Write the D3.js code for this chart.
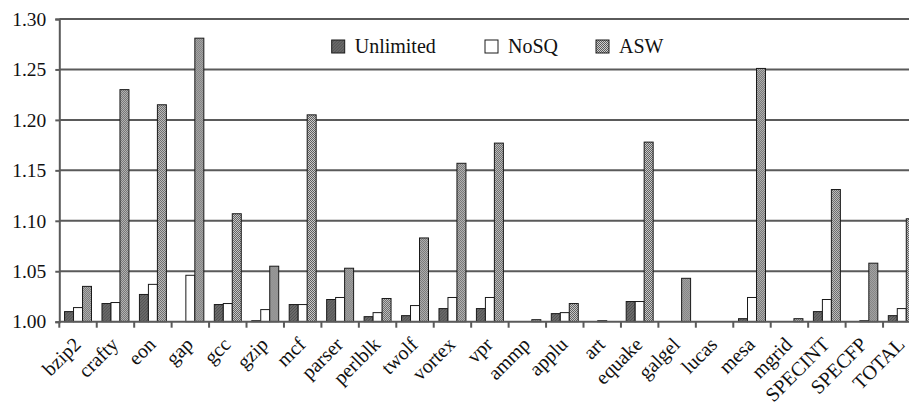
<!DOCTYPE html>
<html>
<head>
<meta charset="utf-8">
<script src="https://cdn.jsdelivr.net/npm/d3@7"></script>
<style>
  body { margin: 0; background: #fff; }
  svg { display: block; font-family: "Liberation Serif", "Times New Roman", serif; }
</style>
</head>
<body>
<svg id="chart" width="909" height="405"></svg>
<script>
// Benchmarks along the x axis
const categories = ["bzip2", "crafty", "eon", "gap", "gcc", "gzip", "mcf", "parser", "perlblk",
  "twolf", "vortex", "vpr", "ammp", "applu", "art", "equake", "galgel", "lucas", "mesa",
  "mgrid", "SPECINT", "SPECFP", "TOTAL"];

// Series values
const unlimited = [1.010, 1.018, 1.027, 1.000, 1.017, 1.001, 1.017, 1.022, 1.005, 1.006, 1.013,
  1.013, 1.000, 1.008, 1.000, 1.020, 1.000, 1.000, 1.003, 1.000, 1.010, 1.000, 1.006];
const noSQ = [1.014, 1.019, 1.037, 1.046, 1.018, 1.012, 1.017, 1.024, 1.009, 1.016, 1.024,
  1.024, 1.000, 1.009, 1.001, 1.020, 1.000, 1.000, 1.024, 1.000, 1.022, 1.001, 1.013];
const asw = [1.035, 1.230, 1.215, 1.281, 1.107, 1.055, 1.205, 1.053, 1.023, 1.083, 1.157,
  1.177, 1.002, 1.018, 1.000, 1.178, 1.043, 1.000, 1.251, 1.003, 1.131, 1.058, 1.102];

const seriesNames = ["Unlimited", "NoSQ", "ASW"];
const seriesValues = [unlimited, noSQ, asw];
const yTicks = [1.00, 1.05, 1.10, 1.15, 1.20, 1.25, 1.30];

const svg = d3.select("#chart");
const plot = { left: 59.3, right: 920.5, top: 19, bottom: 321.7 };

// Fill patterns: hatched dark grey and dotted grey
const defs = svg.append("defs");
const hatch = defs.append("pattern")
  .attr("id", "hatch").attr("patternUnits", "userSpaceOnUse")
  .attr("width", 3).attr("height", 3);
hatch.append("rect").attr("width", 3).attr("height", 3).attr("fill", "#6a6a6a");
hatch.append("path").attr("d", "M0,3 L3,0").attr("stroke", "#505050").attr("stroke-width", 1);

const checker = defs.append("pattern")
  .attr("id", "checker").attr("patternUnits", "userSpaceOnUse")
  .attr("width", 2).attr("height", 2);
checker.append("rect").attr("width", 2).attr("height", 2).attr("fill", "#cfcfcf");
checker.append("rect").attr("width", 1).attr("height", 1).attr("fill", "#5a5a5a");
checker.append("rect").attr("x", 1).attr("y", 1).attr("width", 1).attr("height", 1).attr("fill", "#5a5a5a");

const fills = ["url(#hatch)", "#fff", "url(#checker)"];

const x = d3.scaleBand().domain(categories).range([plot.left, plot.right]).padding(0);
const x1 = d3.scaleBand().domain(seriesNames)
  .range([x.bandwidth() * 0.14, x.bandwidth() * 0.86]);
const y = d3.scaleLinear().domain([1.0, 1.3]).range([plot.bottom, plot.top]);

// Gridlines
svg.append("g")
  .selectAll("line")
  .data(yTicks.slice(1))
  .join("line")
  .attr("x1", plot.left).attr("x2", plot.right)
  .attr("y1", (d) => y(d)).attr("y2", (d) => y(d))
  .attr("stroke", "#5a5a5a").attr("stroke-width", 2);

// Bars
const groups = svg.append("g")
  .selectAll("g")
  .data(categories)
  .join("g")
  .attr("transform", (d) => `translate(${x(d)},0)`);

groups.selectAll("rect")
  .data((d, i) => seriesNames.map((s, k) => ({ s, k, v: seriesValues[k][i] })))
  .join("rect")
  .attr("x", (d) => x1(d.s))
  .attr("width", x1.bandwidth())
  .attr("y", (d) => y(d.v))
  .attr("height", (d) => plot.bottom - y(d.v))
  .attr("fill", (d) => fills[d.k])
  .attr("stroke", "#1a1a1a")
  .attr("stroke-width", 1)
  .attr("display", (d) => (d.v <= 1.0 ? "none" : null));

// Y axis
const yAxis = svg.append("g")
  .attr("transform", `translate(${plot.left},0)`)
  .call(d3.axisLeft(y).tickValues(yTicks).tickFormat(d3.format(".2f")).tickSize(4).tickPadding(9));
yAxis.select(".domain").attr("stroke", "#5a5a5a").attr("stroke-width", 2);
yAxis.selectAll(".tick line").attr("stroke", "#5a5a5a").attr("stroke-width", 2);
yAxis.selectAll("text").attr("font-size", 19.5).attr("fill", "#111")
  .attr("font-family", "Liberation Serif");

// X axis line and boundary ticks
svg.append("line")
  .attr("x1", plot.left).attr("x2", plot.right)
  .attr("y1", plot.bottom).attr("y2", plot.bottom)
  .attr("stroke", "#5a5a5a").attr("stroke-width", 2);
svg.append("g")
  .selectAll("line")
  .data(categories)
  .join("line")
  .attr("x1", (d) => x(d)).attr("x2", (d) => x(d))
  .attr("y1", plot.bottom).attr("y2", plot.bottom + 6)
  .attr("stroke", "#5a5a5a").attr("stroke-width", 2);

// X labels, rotated
svg.append("g")
  .selectAll("text")
  .data(categories)
  .join("text")
  .attr("transform", (d) => `translate(${x(d) + x.bandwidth() / 2 + 4},${plot.bottom + 24}) rotate(-45)`)
  .attr("text-anchor", "end")
  .attr("font-size", 20)
  .attr("fill", "#111")
  .text((d) => d);

// Legend
const legendX = [331.7, 485, 596];
const legend = svg.append("g")
  .selectAll("g")
  .data(seriesNames)
  .join("g")
  .attr("transform", (d, i) => `translate(${legendX[i]},40)`);
legend.append("rect")
  .attr("width", 13).attr("height", 13)
  .attr("fill", (d, i) => fills[i])
  .attr("stroke", "#1a1a1a").attr("stroke-width", 1);
legend.append("text")
  .attr("x", 23).attr("y", 13)
  .attr("font-size", 20)
  .attr("fill", "#111")
  .text((d) => d);
</script>
</body>
</html>
